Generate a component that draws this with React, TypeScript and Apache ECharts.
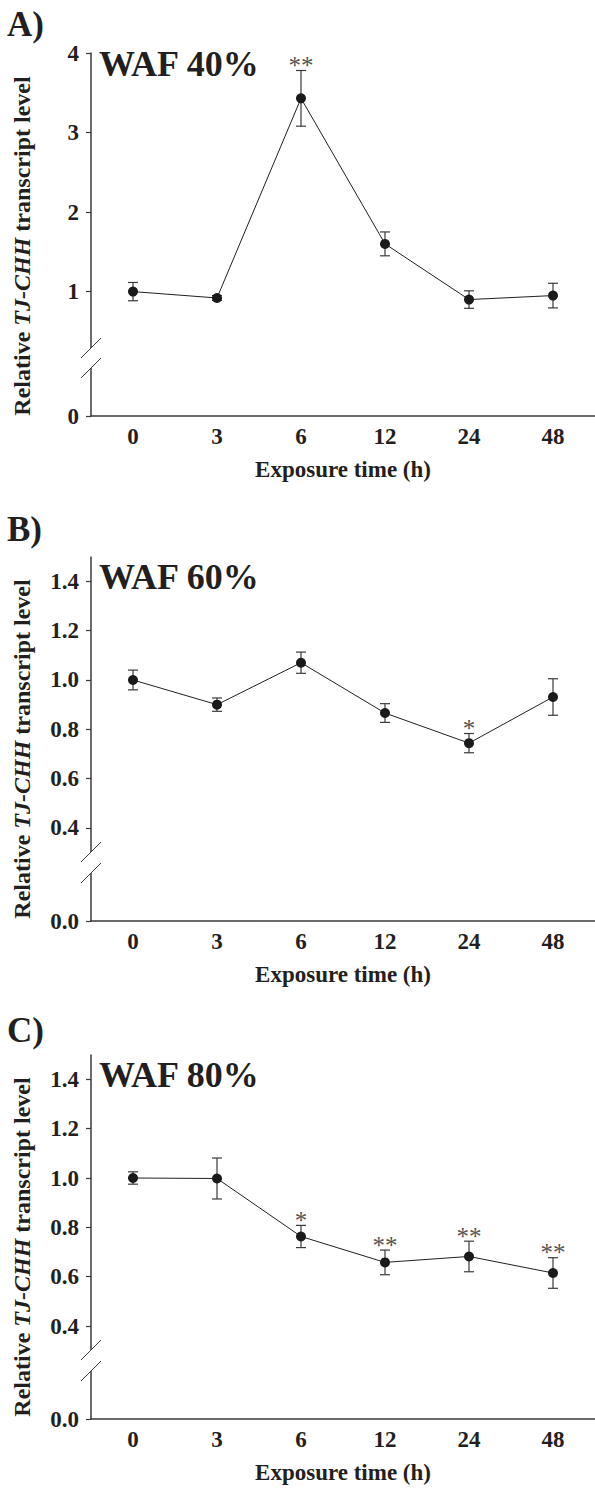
import React, { useEffect, useRef } from "react";
import * as echarts from "echarts";

// ---- data ----
const categories = ["0", "3", "6", "12", "24", "48"];

const meanA = [1.0, 0.92, 3.43, 1.6, 0.9, 0.95];
const errA = [0.115, 0.03, 0.35, 0.15, 0.11, 0.155];
const sigA = ["", "", "**", "", "", ""];

const meanB = [1.0, 0.9, 1.07, 0.866, 0.744, 0.931];
const errB = [0.04, 0.027, 0.043, 0.038, 0.039, 0.074];
const sigB = ["", "", "", "", "*", ""];

const meanC = [1.0, 0.998, 0.763, 0.658, 0.682, 0.615];
const errC = [0.025, 0.083, 0.045, 0.05, 0.062, 0.062];
const sigC = ["", "", "*", "**", "**", "**"];

const ticksA = [0, 1, 2, 3, 4];
const ticksBC = [0, 0.4, 0.6, 0.8, 1.0, 1.2, 1.4];

const titles = ["WAF 40%", "WAF 60%", "WAF 80%"];
const letters = ["A)", "B)", "C)"];
const xName = "Exposure time (h)";

// ---- layout / style ----
const FONT = '"Liberation Serif", "Times New Roman", serif';
const INK = "#231f20";
const GRID_LEFT = 91;
const panelsLayout = [
  { top: 53, bottom: 416, min: -0.564, max: 4, dec: 0, letterY: 24, titleY: 64, nameY: 246, breaks: [348, 368] },
  { top: 557, bottom: 921, min: 0.023, max: 1.4985, dec: 1, letterY: 529, titleY: 577, nameY: 749, breaks: [852, 873] },
  { top: 1055, bottom: 1419, min: 0.0233, max: 1.4985, dec: 1, letterY: 1030, titleY: 1075, nameY: 1247, breaks: [1350, 1371] },
];
const panelData = [
  { mean: meanA, err: errA, sig: sigA, ticks: ticksA },
  { mean: meanB, err: errB, sig: sigB, ticks: ticksBC },
  { mean: meanC, err: errC, sig: sigC, ticks: ticksBC },
];

export default function App() {
  const ref = useRef<HTMLDivElement>(null);
  useEffect(() => {
    if (!ref.current) return;
    const chart = echarts.init(ref.current, undefined, { renderer: "svg" });
    const grids: any[] = [];
    const xAxes: any[] = [];
    const yAxes: any[] = [];
    const series: any[] = [];
    const graphic: any[] = [];

    panelsLayout.forEach((p, k) => {
      const d = panelData[k];
      grids.push({ left: GRID_LEFT, right: 0, top: p.top, height: p.bottom - p.top });
      xAxes.push({
        type: "category",
        gridIndex: k,
        data: categories,
        boundaryGap: true,
        axisLine: { onZero: false, lineStyle: { color: "#3a3a3a", width: 1.5 } },
        axisTick: { alignWithLabel: true, length: 5, lineStyle: { color: "#3a3a3a", width: 1.2 } },
        axisLabel: { margin: 9, fontFamily: FONT, fontWeight: "bold", fontSize: 23, color: INK },
        name: xName,
        nameLocation: "middle",
        nameGap: 42,
        nameTextStyle: { fontFamily: FONT, fontWeight: "bold", fontSize: 23, color: INK },
        splitLine: { show: false },
      });
      const customVals = d.ticks.map((t) => (t === 0 ? p.min : t));
      yAxes.push({
        type: "value",
        gridIndex: k,
        min: p.min,
        max: p.max,
        axisLine: { show: true, onZero: false, lineStyle: { color: "#3a3a3a", width: 1.5 } },
        axisTick: { show: true, length: 5, customValues: customVals, lineStyle: { color: "#3a3a3a", width: 1.2 } },
        axisLabel: {
          customValues: customVals,
          margin: 12,
          fontFamily: FONT,
          fontWeight: "bold",
          fontSize: 23,
          color: INK,
          formatter: (v: number) => (Math.abs(v - p.min) < 1e-6 ? (0).toFixed(p.dec) : v.toFixed(p.dec)),
        },
        splitLine: { show: false },
      });

      const sig = d.sig;
      series.push({
        type: "custom",
        xAxisIndex: k,
        yAxisIndex: k,
        data: categories.map((_, i) => [i, d.mean[i] - d.err[i], d.mean[i] + d.err[i]]),
        encode: { x: 0, y: [1, 2] },
        renderItem: (params: any, api: any) => {
          const i = params.dataIndex;
          const lo = api.coord([api.value(0), api.value(1)]);
          const hi = api.coord([api.value(0), api.value(2)]);
          const hw = 5;
          const st = { stroke: "#3a3a3a", lineWidth: 1.2 };
          const children: any[] = [
            { type: "line", shape: { x1: lo[0], y1: lo[1], x2: hi[0], y2: hi[1] }, style: st },
            { type: "line", shape: { x1: hi[0] - hw, y1: hi[1], x2: hi[0] + hw, y2: hi[1] }, style: st },
            { type: "line", shape: { x1: lo[0] - hw, y1: lo[1], x2: lo[0] + hw, y2: lo[1] }, style: st },
          ];
          if (sig[i]) {
            children.push({
              type: "text",
              x: hi[0],
              y: hi[1] - 5,
              style: {
                text: sig[i],
                fill: "#555555",
                fontFamily: FONT,
                fontSize: 25,
                align: "center",
                verticalAlign: "middle",
              },
            });
          }
          return { type: "group", children };
        },
        z: 2,
      });
      series.push({
        type: "line",
        xAxisIndex: k,
        yAxisIndex: k,
        data: d.mean,
        symbol: "circle",
        symbolSize: 10,
        itemStyle: { color: "#1a1a1a" },
        lineStyle: { color: INK, width: 1 },
        z: 3,
      });

      // panel letter
      graphic.push({
        type: "text",
        x: 7,
        y: p.letterY,
        style: { text: letters[k], fontFamily: FONT, fontWeight: "bold", fontSize: 35, fill: INK, align: "left", verticalAlign: "middle" },
      });
      // title
      graphic.push({
        type: "text",
        x: 99,
        y: p.titleY,
        style: { text: titles[k], fontFamily: FONT, fontWeight: "bold", fontSize: 36, fill: INK, align: "left", verticalAlign: "middle" },
      });
      // y name
      graphic.push({
        type: "text",
        x: 22,
        y: p.nameY,
        rotation: Math.PI / 2,
        style: {
          text: "{n|Relative }{i|TJ-CHH}{n| transcript level}",
          align: "center",
          verticalAlign: "middle",
          rich: {
            n: { fontFamily: FONT, fontWeight: "bold", fontSize: 24, fill: INK, color: INK },
            i: { fontFamily: FONT, fontWeight: "bold", fontStyle: "italic", fontSize: 24, fill: INK, color: INK },
          },
        },
      });
      // axis break
      const [b1, b2] = p.breaks;
      graphic.push({
        type: "rect",
        z: 100,
        shape: { x: GRID_LEFT - 3, y: b1, width: 6, height: b2 - b1 },
        style: { fill: "#ffffff" },
      });
      [b1, b2].forEach((b) => {
        graphic.push({
          type: "line",
          z: 101,
          shape: { x1: GRID_LEFT - 10, y1: b + 10, x2: GRID_LEFT + 10, y2: b - 10 },
          style: { stroke: "#3a3a3a", lineWidth: 1 },
        });
      });
    });

    chart.setOption({
      animation: false,
      backgroundColor: "#ffffff",
      grid: grids,
      xAxis: xAxes,
      yAxis: yAxes,
      series,
      graphic,
    });
    return () => chart.dispose();
  }, []);

  return (
    <div
      ref={ref}
      style={{ position: "absolute", left: 0, top: 0, width: 595, height: 1489, background: "#fff" }}
    />
  );
}
